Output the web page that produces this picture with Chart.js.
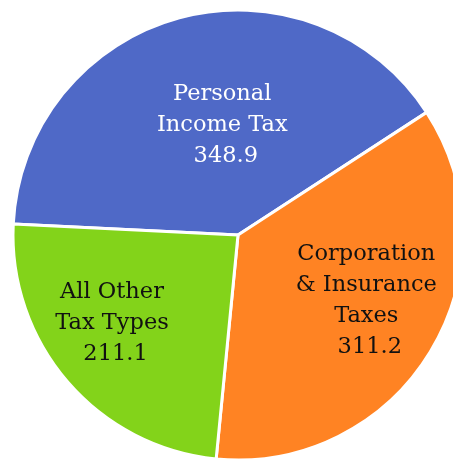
<!DOCTYPE html>
<html>
<head>
<meta charset="utf-8">
<script src="https://cdn.jsdelivr.net/npm/chart.js@4/dist/chart.umd.min.js"></script>
<style>
  html, body { margin: 0; padding: 0; background: #fff; overflow: hidden; }
  #wrap { width: 453px; height: 460px; overflow: hidden; }
</style>
</head>
<body>
<div id="wrap"><canvas id="pie" width="476" height="470"></canvas></div>
<script>
// tax revenue by type
const categories = [['Personal', 'Income Tax'], ['Corporation', '& Insurance', 'Taxes'], ['All Other', 'Tax Types']];
const values = [348.9, 311.2, 211.1];
const sliceColors = ['#4F69C7', '#FF8323', '#83D31A'];
const labelColors = ['#ffffff', '#111111', '#111111'];

// where each label block sits, as a fraction of the radius from the pie centre
const labelSpots = [[-0.07, -0.49], [0.57, 0.29], [-0.56, 0.39]];

const sliceLabels = {
  id: 'sliceLabels',
  afterDatasetsDraw(chart) {
    const ctx = chart.ctx;
    const meta = chart.getDatasetMeta(0);
    ctx.save();
    ctx.font = '22.5px "DejaVu Serif", serif';
    ctx.textAlign = 'center';
    ctx.textBaseline = 'middle';
    meta.data.forEach((arc, i) => {
      const { x, y, outerRadius } = arc.getProps(['x', 'y', 'outerRadius'], true);
      const cx = x + labelSpots[i][0] * outerRadius;
      const cy = y + labelSpots[i][1] * outerRadius;
      const lines = categories[i].concat([' ' + values[i].toFixed(1)]);
      const lh = 31;
      const top = cy - (lines.length - 1) * lh / 2;
      ctx.fillStyle = labelColors[i];
      lines.forEach((t, k) => ctx.fillText(t, cx, top + k * lh));
    });
    ctx.restore();
  }
};

new Chart(document.getElementById('pie'), {
  type: 'pie',
  data: {
    labels: categories.map(c => c.join(' ')),
    datasets: [{
      data: values,
      backgroundColor: sliceColors,
      borderColor: '#ffffff',
      borderWidth: 3,
      radius: 225
    }]
  },
  options: {
    responsive: false,
    animation: false,
    rotation: -87.2,
    layout: { padding: { left: 13, right: 13, top: 10, bottom: 10 } },
    plugins: {
      legend: { display: false },
      tooltip: { enabled: false }
    }
  },
  plugins: [sliceLabels]
});
</script>
</body>
</html>
